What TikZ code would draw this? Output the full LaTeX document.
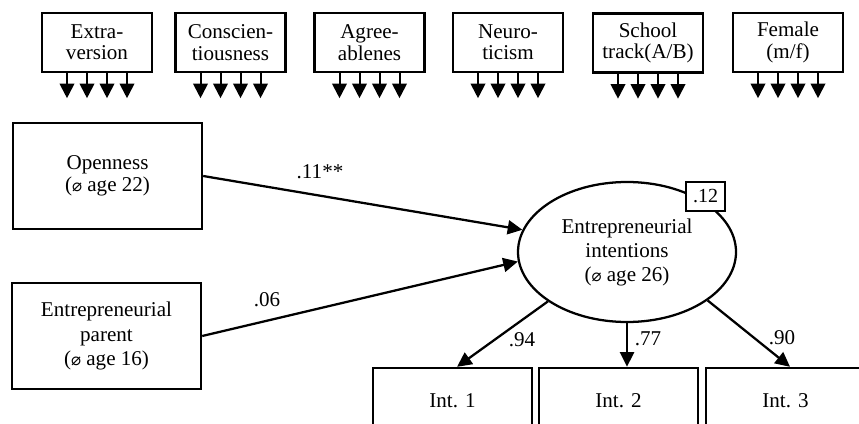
\documentclass[tikz,border=0pt]{standalone}
\usepackage{fontspec}
\setmainfont{Liberation Serif}
\newfontfamily\diafont{DejaVu Sans}
\usetikzlibrary{arrows.meta,shapes.geometric}
\newcommand{\dia}{{\diafont\fontsize{12.5}{12.5}\selectfont ⌀}}
\begin{document}
\begin{tikzpicture}[x=0.75pt,y=-0.75pt,
  font=\fontsize{15.8}{16}\selectfont,
  box/.style={draw,line width=1.8pt,rectangle,inner sep=0pt,align=center},
  topbox/.style={box,minimum width=82.5pt,minimum height=44.25pt},
  bigbox/.style={box,minimum width=141.75pt,minimum height=79.5pt},
  intbox/.style={box,minimum width=119.25pt,minimum height=49.5pt},
  sarrow/.style={line width=1.5pt,-{Triangle[length=11pt,width=11pt]}},
  marrow/.style={line width=1.7pt,-{Triangle[length=11pt,width=10.5pt]}},
  lbl/.style={inner sep=0pt,font=\fontsize{15.8}{16}\selectfont}
]
\useasboundingbox (0,0) rectangle (859,424);
\clip (0,0) rectangle (859,424);

% top control boxes
\node[topbox] (t1) at (97,42.5) {Extra-\\version};
\node[topbox] (t2) at (230.5,42.5) {Conscien-\\tiousness};
\node[topbox] (t3) at (369.5,42.5) {Agree-\\ablenes};
\node[topbox] (t4) at (508,42.5) {Neuro-\\ticism};
\node[topbox] (t5) at (648,43) {School\\track(A/B)};
\node[topbox] (t6) at (788,42.5) {Female\\(m/f)};
\foreach \i in {1,...,6}{
  \foreach \d in {-30,-10,10,30}{
    \draw[sarrow] ([xshift=\d*0.75pt]t\i.south) -- ++(0,25);
  }
}

% predictors
\node[bigbox,font=\fontsize{15.8}{16.5}\selectfont] (O) at (107.5,176) {Openness\\(\dia{} age 22)};
\node[bigbox,font=\fontsize{15.8}{18.4}\selectfont] (P) at (106.5,336) {Entrepreneurial\\parent\\(\dia{} age 16)};

% latent
\node[draw,ellipse,line width=1.7pt,inner sep=0pt,minimum width=163.5pt,minimum height=105pt,align=center,font=\fontsize{15.8}{18}\selectfont] (E) at (627,252) {Entrepreneurial\\intentions\\(\dia{} age 26)};
\node[box,fill=white,line width=1.7pt,minimum width=29.25pt,minimum height=21.75pt,font=\fontsize{15}{16}\selectfont] (R) at (705.5,196.5) {.12};

% indicators
\node[intbox] (I1) at (452.5,401) {Int. 1};
\node[intbox] (I2) at (618.5,401) {Int. 2};
\node[intbox] (I3) at (785.5,401) {Int. 3};

% paths
\draw[marrow] (O.east) -- (E.168);
\draw[marrow] (P.east) -- (E.185);
\draw[marrow] (E.212) -- ([xshift=3.4pt]I1.north);
\draw[marrow] (E.south) -- (E.south |- I2.north);
\draw[marrow] (E.-31) -- ([xshift=3.4pt]I3.north);

% labels
\node[lbl] (l1) at (320,172) {.11**};
\node[lbl] (l2) at (267,300) {.06};
\node[lbl] (l3) at (522,340) {.94};
\node[lbl] (l4) at (648,339) {.77};
\node[lbl] (l5) at (782,338) {.90};
\end{tikzpicture}
\end{document}
